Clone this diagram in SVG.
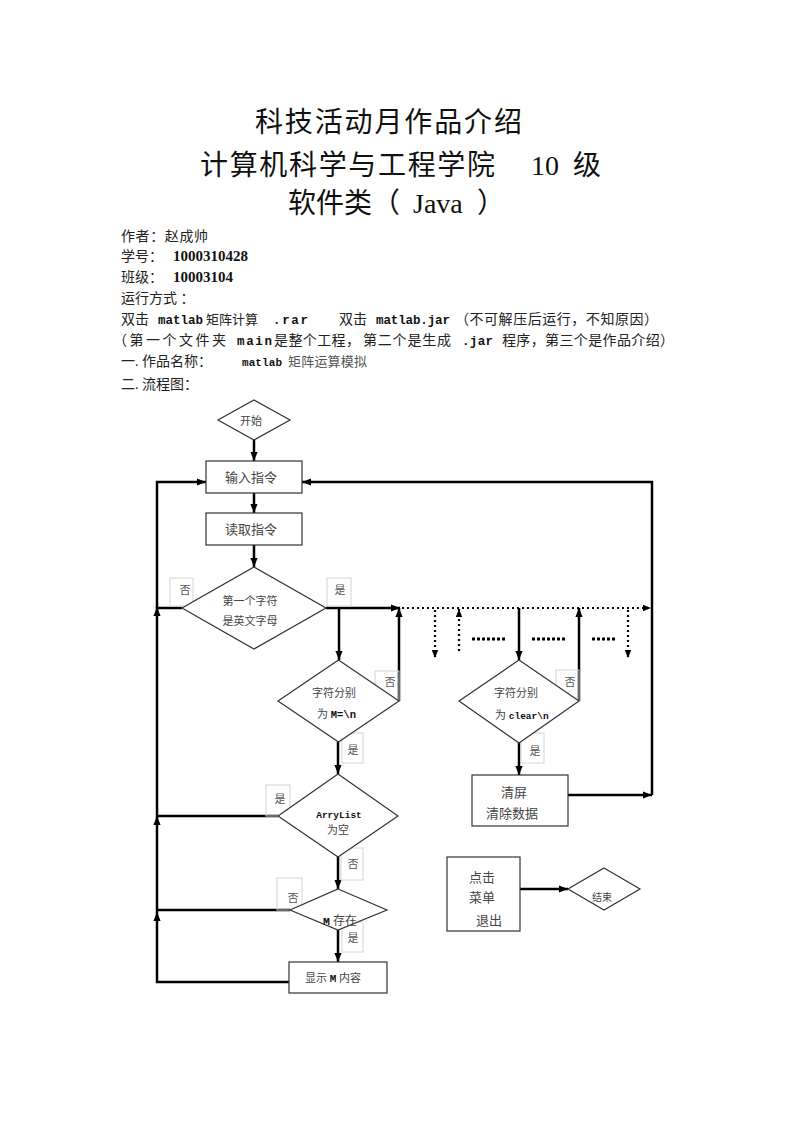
<svg xmlns="http://www.w3.org/2000/svg" width="800" height="1132" viewBox="0 0 800 1132">
<defs>
<marker id="ah" markerUnits="userSpaceOnUse" markerWidth="9" markerHeight="9" viewBox="0 0 10 10" refX="10" refY="5" orient="auto"><path d="M0,1 L10,5 L0,9 z" fill="#000"/></marker>
<marker id="ahs" markerUnits="userSpaceOnUse" markerWidth="8" markerHeight="8" viewBox="0 0 10 10" refX="10" refY="5" orient="auto"><path d="M0,1 L10,5 L0,9 z" fill="#000"/></marker>
</defs>
<style>
.t{font-family:"Liberation Serif","Noto Sans CJK SC",serif;font-size:28px;fill:#111}
.b{font-family:"Liberation Serif","Noto Sans CJK SC",serif;font-size:14px;fill:#222}
.num{font-family:"Liberation Serif",serif;font-weight:bold;font-size:15px;fill:#111}
.mono{font-family:"Liberation Mono",monospace;font-weight:bold;font-size:12.5px;fill:#111}
.n{fill:#fff;stroke:#333;stroke-width:1.2}
.lbl{fill:none;stroke:#d4d4d4;stroke-width:1}
.nt{font-family:"Liberation Serif","Noto Sans CJK SC",serif;font-size:12px;fill:#444}
.nm{font-family:"Liberation Mono",monospace;font-weight:bold;font-size:9.5px;fill:#111}
.lt{font-family:"Liberation Serif","Noto Sans CJK SC",serif;font-size:11px;fill:#555;text-anchor:middle}
.c{fill:none;stroke:#000;stroke-width:2.5}
.d{fill:none;stroke:#000;stroke-width:2.2;stroke-dasharray:2 3}
.dash{fill:none;stroke:#000;stroke-width:3;stroke-dasharray:3 2}
</style>
<rect width="800" height="1132" fill="#fff"/>

<g id="header">
<text class="t" x="255" y="132" textLength="267" lengthAdjust="spacing">科技活动月作品介绍</text>
<text class="t" x="200" y="175" textLength="295" lengthAdjust="spacing">计算机科学与工程学院</text>
<text class="t" x="531" y="175">10</text>
<text class="t" x="573" y="175">级</text>
<text class="t" x="288" y="213">软件类（</text>
<text class="t" x="413" y="213">Java</text>
<text class="t" x="477" y="213">）</text>

<text class="b" x="121" y="241" textLength="87" lengthAdjust="spacing">作者：赵成帅</text>
<text class="b" x="121" y="261">学号：</text><text class="num" x="173" y="261" textLength="75" lengthAdjust="spacing">1000310428</text>
<text class="b" x="121" y="282">班级：</text><text class="num" x="173" y="282" textLength="60" lengthAdjust="spacing">10003104</text>
<text class="b" x="121" y="303">运行方式 ：</text>
<text class="b" x="121" y="324">双击</text>
<text class="mono" x="158" y="324" textLength="45" lengthAdjust="spacing">matlab</text>
<text class="b" x="206" y="324" style="font-size:13px" textLength="52" lengthAdjust="spacing">矩阵计算</text>
<text class="mono" x="273" y="324" textLength="35" lengthAdjust="spacing">.rar</text>
<text class="b" x="339" y="324">双击</text>
<text class="mono" x="376" y="324" textLength="74" lengthAdjust="spacing">matlab.jar</text>
<text class="b" x="455" y="324" textLength="203" lengthAdjust="spacing">（不可解压后运行，不知原因）</text>
<text class="b" x="113" y="345" textLength="113" lengthAdjust="spacing">（第一个文件夹</text>
<text class="mono" x="237" y="345" textLength="35" lengthAdjust="spacing">main</text>
<text class="b" x="274" y="345" textLength="86" lengthAdjust="spacing">是整个工程，</text>
<text class="b" x="363" y="345" textLength="88" lengthAdjust="spacing">第二个是生成</text>
<text class="mono" x="462" y="345" textLength="31" lengthAdjust="spacing">.jar</text>
<text class="b" x="502" y="345" textLength="172" lengthAdjust="spacing">程序，第三个是作品介绍）</text>
<text class="b" x="121" y="366">一. 作品名称：</text>
<text class="mono" x="242" y="366" style="font-size:11px" textLength="40" lengthAdjust="spacing">matlab</text>
<text class="b" x="288" y="366" style="font-size:13px;fill:#555" textLength="79" lengthAdjust="spacing">矩阵运算模拟</text>
<text class="b" x="121" y="389">二. 流程图：</text>
</g>

<g id="connectors">
<line class="c" x1="254" y1="440" x2="254" y2="461" marker-end="url(#ah)"/>
<line class="c" x1="254" y1="493" x2="254" y2="513" marker-end="url(#ah)"/>
<line class="c" x1="254" y1="545" x2="254" y2="567" marker-end="url(#ah)"/>
<polyline class="c" points="182,608 157,608"/>
<polyline class="c" points="278,816 157,816"/>
<polyline class="c" points="290,910 157,910"/>
<polyline class="c" points="289,982 157,982 157,912" marker-end="url(#ah)"/>
<line class="c" x1="157" y1="912" x2="157" y2="816" marker-end="url(#ah)"/>
<line class="c" x1="157" y1="816" x2="157" y2="607" marker-end="url(#ah)"/>
<polyline class="c" points="157,608 157,482 206,482" marker-end="url(#ah)"/>
<line class="c" x1="568" y1="795" x2="652" y2="795" marker-end="url(#ah)"/>
<polyline class="c" points="652,795 652,482 302,482" marker-end="url(#ah)"/>
<line class="c" x1="326" y1="608" x2="400" y2="608" marker-end="url(#ah)"/>
<line class="c" x1="339" y1="608" x2="339" y2="660" marker-end="url(#ah)"/>
<line class="c" x1="399" y1="701" x2="399" y2="608" marker-end="url(#ah)"/>
<line class="c" x1="338" y1="742" x2="338" y2="774" marker-end="url(#ah)"/>
<line class="c" x1="338" y1="857" x2="338" y2="889" marker-end="url(#ah)"/>
<line class="c" x1="338" y1="930" x2="338" y2="962" marker-end="url(#ah)"/>
<line class="c" x1="519" y1="608" x2="519" y2="660" marker-end="url(#ah)"/>
<line class="c" x1="579" y1="701" x2="579" y2="608" marker-end="url(#ah)"/>
<line class="c" x1="519" y1="743" x2="519" y2="775" marker-end="url(#ah)"/>
<line class="c" x1="520" y1="889" x2="568" y2="889" marker-end="url(#ah)"/>
<line class="d" x1="402" y1="608" x2="651" y2="608" marker-end="url(#ahs)"/>
<line class="d" x1="435" y1="610" x2="435" y2="658" marker-end="url(#ahs)"/>
<line class="d" x1="459" y1="651" x2="459" y2="609" marker-end="url(#ahs)"/>
<line class="d" x1="628" y1="610" x2="628" y2="658" marker-end="url(#ahs)"/>
<line class="dash" x1="472" y1="639" x2="507" y2="639"/>
<line class="dash" x1="532" y1="639" x2="567" y2="639"/>
<line class="dash" x1="592" y1="639" x2="617" y2="639"/>
</g>

<g id="labels">
<rect class="lbl" x="170" y="578" width="23" height="28"/><text class="lt" x="185" y="594">否</text>
<rect class="lbl" x="327" y="578" width="24" height="28"/><text class="lt" x="340" y="594">是</text>
<rect class="lbl" x="375" y="671" width="24" height="30"/><text class="lt" x="390" y="686">否</text>
<rect class="lbl" x="342" y="733" width="21" height="30"/><text class="lt" x="353" y="754">是</text>
<rect class="lbl" x="266" y="785" width="24" height="31"/><text class="lt" x="280" y="803">是</text>
<rect class="lbl" x="341" y="848" width="22" height="32"/><text class="lt" x="353" y="868">否</text>
<rect class="lbl" x="277" y="878" width="25" height="32"/><text class="lt" x="293" y="902">否</text>
<rect class="lbl" x="342" y="922" width="21" height="30"/><text class="lt" x="353" y="942">是</text>
<rect class="lbl" x="556" y="670" width="23" height="31"/><text class="lt" x="570" y="686">否</text>
<rect class="lbl" x="521" y="733" width="23" height="30"/><text class="lt" x="535" y="755">是</text>
</g>

<g id="start">
<polygon class="n" points="254,400 290,420 254,440 218,420"/>
<text class="nt" x="251" y="425" text-anchor="middle" style="font-size:11px">开始</text>
</g>
<g id="input">
<rect class="n" x="206" y="461" width="96" height="32"/>
<text class="nt" x="251" y="482" text-anchor="middle" style="font-size:13px">输入指令</text>
</g>
<g id="read">
<rect class="n" x="206" y="513" width="96" height="32"/>
<text class="nt" x="251" y="534" text-anchor="middle" style="font-size:13px">读取指令</text>
</g>
<g id="first-char">
<polygon class="n" points="254,567 326,608 254,649 182,608"/>
<text class="nt" x="250" y="605" text-anchor="middle" style="font-size:11px">第一个字符</text>
<text class="nt" x="250" y="625" text-anchor="middle" style="font-size:11px">是英文字母</text>
</g>
<g id="m-eq">
<polygon class="n" points="338.5,660 399,701 338.5,742 278,701"/>
<text class="nt" x="334" y="697" text-anchor="middle" style="font-size:11px">字符分别</text>
<text class="nt" x="317" y="718" style="font-size:11px">为 <tspan class="nm" style="font-size:10.5px">M=\n</tspan></text>
</g>
<g id="arrylist">
<polygon class="n" points="338,774 398,816 338,857 278,816"/>
<text class="nm" x="339" y="818" text-anchor="middle">ArryList</text>
<text class="nt" x="338" y="834" text-anchor="middle" style="font-size:11px">为空</text>
</g>
<g id="m-exists">
<polygon class="n" points="338,889 387,910 338,930 290,910"/>
<text class="nt" x="323" y="925" style="font-size:12px"><tspan class="nm" style="font-size:11.5px">M</tspan> 存在</text>
</g>
<g id="show-m">
<rect class="n" x="289" y="962" width="98" height="31"/>
<text class="nt" x="305" y="982" style="font-size:11px">显示 <tspan class="nm" style="font-size:11px">M</tspan> 内容</text>
</g>
<g id="clear">
<polygon class="n" points="519,660 579,701 519,743 459,701"/>
<text class="nt" x="516" y="697" text-anchor="middle" style="font-size:11px">字符分别</text>
<text class="nt" x="495" y="719" style="font-size:11px">为 <tspan class="nm" style="font-size:9.5px">clear\n</tspan></text>
</g>
<g id="clear-screen">
<rect class="n" x="472" y="775" width="96" height="51"/>
<text class="nt" x="514" y="797" text-anchor="middle" style="font-size:13px">清屏</text>
<text class="nt" x="512" y="818" text-anchor="middle" style="font-size:13px">清除数据</text>
</g>
<g id="exit-menu">
<rect class="n" x="447" y="857" width="73" height="74"/>
<text class="nt" x="482" y="882" text-anchor="middle" style="font-size:13px">点击</text>
<text class="nt" x="482" y="902" text-anchor="middle" style="font-size:13px">菜单</text>
<text class="nt" x="489" y="925" text-anchor="middle" style="font-size:13px">退出</text>
</g>
<g id="end">
<polygon class="n" points="604,868 640,889 604,910 568,889"/>
<text class="nt" x="602" y="901" text-anchor="middle" style="font-size:10px">结束</text>
</g>
</svg>
